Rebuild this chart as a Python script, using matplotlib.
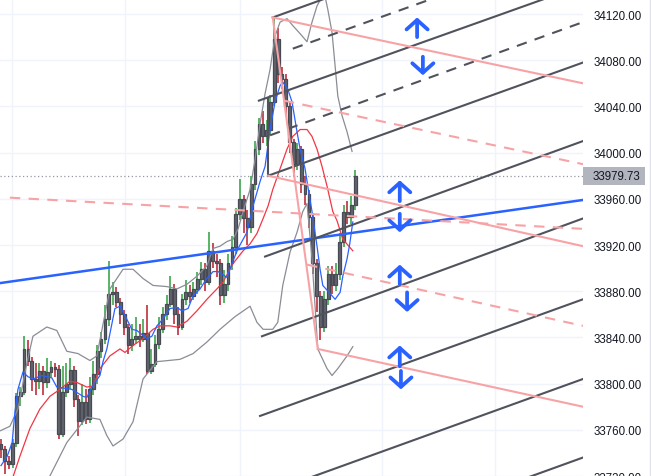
import matplotlib
matplotlib.use("Agg")
import matplotlib.pyplot as plt
from matplotlib.patches import Rectangle
import matplotlib.transforms as mtransforms

plt.rcParams['font.family'] = ['Liberation Sans', 'DejaVu Sans']

# ---- price data (one candle per bar) ----
first_open = 33748
closes = [33743, 33733, 33730, 33749, 33789, 33793, 33830, 33820, 33804, 33802,
          33811, 33801, 33810, 33814, 33813, 33756, 33793, 33800, 33812, 33787,
          33768, 33784, 33769, 33795, 33808, 33828, 33839, 33856, 33878, 33879,
          33871, 33860, 33849, 33833, 33839, 33841, 33839, 33844, 33811, 33817,
          33834, 33847, 33860, 33869, 33882, 33860, 33849, 33873, 33879, 33876,
          33882, 33891, 33899, 33888, 33915, 33906, 33904, 33877, 33886, 33904,
          33918, 33947, 33960, 33943, 33936, 33973, 34003, 34025, 34014, 34020,
          34044, 34098, 34068, 34064, 34040, 34009, 33990, 34003, 33973, 33964,
          33944, 33904, 33876, 33849, 33873, 33895, 33885, 33895, 33923, 33949,
          33944, 33955, 33979.73]
highs = [33752, 33746, 33737, 33752, 33792, 33797, 33841, 33838, 33823, 33818,
         33818, 33815, 33822, 33820, 33818, 33816, 33815, 33818, 33822, 33815,
         33790, 33800, 33795, 33806, 33820, 33833, 33845, 33868, 33906, 33888,
         33884, 33874, 33864, 33852, 33852, 33858, 33852, 33856, 33868, 33830,
         33842, 33858, 33866, 33877, 33893, 33886, 33866, 33878, 33890, 33885,
         33888, 33897, 33905, 33904, 33931, 33922, 33912, 33908, 33898, 33912,
         33928, 33952, 33977, 33963, 33950, 33980, 34010, 34030, 34036, 34028,
         34050, 34117, 34108, 34074, 34068, 34045, 34012, 34008, 34006, 33980,
         33968, 33948, 33908, 33880, 33880, 33902, 33902, 33904, 33930, 33955,
         33958, 33962, 33985]
lows = [33736, 33722, 33726, 33727, 33745, 33781, 33790, 33815, 33794, 33790,
        33795, 33790, 33796, 33806, 33806, 33752, 33754, 33788, 33795, 33780,
        33755, 33764, 33765, 33766, 33790, 33800, 33822, 33834, 33850, 33868,
        33866, 33852, 33842, 33826, 33828, 33834, 33832, 33836, 33808, 33808,
        33814, 33830, 33844, 33855, 33866, 33852, 33842, 33846, 33868, 33870,
        33872, 33878, 33885, 33880, 33885, 33900, 33892, 33868, 33870, 33880,
        33898, 33912, 33942, 33930, 33920, 33930, 33968, 33998, 34008, 34006,
        34015, 34040, 34060, 34055, 34032, 34000, 33980, 33985, 33965, 33955,
        33935, 33895, 33862, 33838, 33845, 33868, 33878, 33880, 33890, 33918,
        33938, 33938, 33950]
last_price = 33979.73

# ---- indicators (bar, price) ----
ma_fast_x = [0, 1.6, 2.9, 3.6, 4.4, 5.7, 7.0, 8.3, 10.6, 13.2, 14.5, 18.4, 21.3, 22.3,
             23.6, 25.7, 26.5, 27.5, 29.6, 30.9, 32.2, 34.0, 35.3, 37.9, 39.2, 40.5,
             42.1, 43.9, 45.7, 47.0, 48.6, 49.9, 51.7, 53.5, 55.1, 56.4, 58.7, 60.0,
             61.6, 63.9, 65.5, 67.3, 68.6, 69.9, 71.2, 72.5, 73.2, 74.5, 75.6, 76.9,
             77.7, 79.0, 79.7, 80.8, 82.1, 82.9, 83.6, 85.5, 86.8, 88.1, 88.8, 89.9,
             90.6, 91.4]
ma_fast_y = [33729, 33737, 33749, 33775, 33795, 33810, 33806, 33804, 33807, 33805, 33797,
             33795, 33789, 33788, 33797, 33807, 33819, 33830, 33865, 33867, 33859,
             33847, 33846, 33839, 33841, 33850, 33856, 33865, 33866, 33863, 33865,
             33876, 33882, 33891, 33897, 33897, 33892, 33904, 33917, 33931, 33954,
             33975, 33988, 34020, 34044, 34058, 34061, 34055, 34044, 34018, 34003,
             33986, 33971, 33949, 33919, 33899, 33885, 33878, 33873, 33879, 33893,
             33908, 33921, 33940]

ma_slow_x = [3.1, 4.9, 7.5, 10.1, 12.7, 15.3, 17.9, 19.7, 22.3, 23.9, 25.7, 28.3, 30.9,
             32.2, 34.3, 36.9, 39.5, 41.3, 43.9, 45.7, 48.3, 50.9, 53.5, 56.1, 57.7,
             60.3, 62.9, 64.7, 66.5, 68.1, 69.4, 70.6, 72.5, 74.3, 75.8, 77.7, 79.5,
             80.8, 82.1, 83.4, 84.7, 86.2, 87.3, 88.8, 91.4]
ma_slow_y = [33719, 33737, 33761, 33778, 33789, 33795, 33802, 33801, 33797, 33798, 33813,
             33824, 33830, 33827, 33833, 33839, 33847, 33850, 33850, 33849, 33854,
             33863, 33873, 33882, 33888, 33904, 33915, 33921, 33930, 33943, 33954,
             33968, 33986, 34003, 34014, 34020, 34020, 34014, 34003, 33988, 33971,
             33949, 33941, 33925, 33915]

band_up_x = [-0.3, 2.3, 4.4, 6.8, 8.3, 11.9, 14.5, 17.1, 20.0, 23.1, 24.9, 28.3, 31.7,
             34.3, 36.9, 39.5, 43.1, 45.7, 48.3, 50.9, 53.5, 55.1, 56.9, 58.7, 60.3,
             61.6, 62.9, 64.7, 66.0, 67.3, 68.6, 69.9, 71.2, 72.5, 74.3, 75.8, 77.7,
             79.5, 80.8, 82.1, 83.4, 84.2, 84.9, 86.0, 86.8, 87.5, 88.6, 89.9, 91.2]
band_up_y = [33759, 33763, 33778, 33819, 33841, 33849, 33846, 33828, 33826, 33820, 33824,
             33882, 33899, 33899, 33891, 33885, 33884, 33882, 33886, 33893, 33902,
             33917, 33919, 33923, 33925, 33934, 33949, 33968, 33994, 34025, 34051,
             34072, 34101, 34113, 34116, 34110, 34103, 34096, 34113, 34127, 34135,
             34135, 34124, 34104, 34075, 34049, 34032, 34018, 34001]

band_lo_x = [12.7, 17.1, 22.3, 25.7, 27.5, 29.1, 31.7, 34.3, 36.9, 40.5, 46.5, 49.9,
             53.5, 56.9, 60.8, 64.7, 66.5, 68.1, 70.6, 71.9, 73.2, 75.1, 76.9, 78.4,
             79.5, 80.8, 82.3, 84.7, 86.0, 87.5, 89.9, 91.4]
band_lo_y = [33720, 33749, 33771, 33769, 33755, 33746, 33752, 33767, 33804, 33819, 33821,
             33826, 33836, 33847, 33858, 33867, 33853, 33847, 33847, 33853, 33885,
             33914, 33931, 33949, 33956, 33908, 33830, 33813, 33807, 33813, 33824,
             33832]

# ---- drawings (bar0, price0, bar1, price1) ----
trend_line = (-0.3, 33887, 151.2, 33959)
channel_solid = [(70.6, 34117, 151.2, 34214), (67.0, 34045, 151.2, 34145),
                 (69.4, 33980, 151.2, 34078), (68.6, 33910, 151.2, 34010),
                 (67.8, 33841, 151.2, 33943), (67.3, 33772, 151.2, 33873),
                 (67.3, 33703, 151.2, 33804), (67.3, 33635, 151.2, 33736),
                 (69.4, 34047, 69.4, 33980)]
channel_dashed = [(75.8, 34090, 151.2, 34180), (69.9, 34015, 151.2, 34113)]
pink_solid = [(70.6, 34117, 151.2, 34060), (70.6, 34117, 82.3, 33830),
              (69.4, 33980, 151.2, 33919), (82.3, 33830, 151.2, 33780)]
pink_dashed = [(73.5, 34045, 151.2, 33990), (79.5, 33903, 151.2, 33850),
               (2.3, 33961, 151.2, 33934)]
# arrows: (bar, tail price, head price)
arrows = [(108.1, 34100, 34117), (109.6, 34083, 34067),
          (103.6, 33958, 33976), (103.6, 33947, 33931),
          (103.6, 33886, 33903), (105.5, 33879, 33862),
          (103.6, 33815, 33833), (103.9, 33811, 33795)]

price_ticks = list(range(33720, 34121, 40))
time_grid = [2.86, 32.2, 62.1, 99.0, 128.3]

W, H = 651, 477
fig = plt.figure(figsize=(W / 100, H / 100), dpi=100)
fig.patch.set_facecolor('white')
ax = fig.add_axes([0, 0, 583 / W, 1])
ax.set_xlim(-0.26, 151.2)
ax.set_ylim(33720, 34133)

# grid
for p in price_ticks:
  ax.axhline(p, color='#f0f3fa', lw=1, zorder=0)
for t in time_grid:
  ax.axvline(t, color='#f0f3fa', lw=1, zorder=0)

# candles
opens = [first_open] + closes[:-1]
for i, (o, c, h, l) in enumerate(zip(opens, closes, highs, lows)):
  wick = '#2e9e3e' if c >= o else '#b71c2c'
  ax.vlines(i, l, h, color=wick, lw=1.1, zorder=2)
  lo, hi = min(o, c), max(o, c)
  ax.add_patch(Rectangle((i - 0.36, lo), 0.72, max(hi - lo, 1.5),
                         facecolor='#62656d', edgecolor='#474a52', lw=0.9, zorder=3))

# indicators
ax.plot(band_up_x, band_up_y, color='#8a8d95', lw=0.9, zorder=4)
ax.plot(band_lo_x, band_lo_y, color='#8a8d95', lw=0.9, zorder=4)
ax.plot(ma_slow_x, ma_slow_y, color='#f23645', lw=0.9, zorder=4)
ax.plot(ma_fast_x, ma_fast_y, color='#2962ff', lw=0.9, zorder=4)

# last price line
ax.axhline(last_price, color='#9598a1', lw=0.9, ls=(0, (1, 2)), zorder=1)

# drawings
x0, y0, x1, y1 = trend_line
ax.plot([x0, x1], [y0, y1], color='#2962ff', lw=1.8, zorder=6)
for x0, y0, x1, y1 in channel_solid:
  ax.plot([x0, x1], [y0, y1], color='#50535c', lw=1.5, zorder=6)
for x0, y0, x1, y1 in channel_dashed:
  ax.plot([x0, x1], [y0, y1], color='#50535c', lw=1.5, dashes=(5, 4), zorder=6)
for x0, y0, x1, y1 in pink_solid:
  ax.plot([x0, x1], [y0, y1], color='#f7a3a6', lw=1.5, zorder=6)
for x0, y0, x1, y1 in pink_dashed:
  ax.plot([x0, x1], [y0, y1], color='#f7a3a6', lw=1.5, dashes=(5, 4), zorder=6)
for bx, tail, head in arrows:
  ax.annotate('', xy=(bx, head), xytext=(bx, tail),
              arrowprops=dict(arrowstyle='->,head_length=0.34,head_width=0.38',
                              color='#2962ff', lw=2.7, shrinkA=0, shrinkB=0,
                              mutation_scale=20, capstyle='round', joinstyle='round'),
              zorder=7)

# axis
for s in ax.spines.values():
  s.set_visible(False)
ax.set_xticks([])
ax.yaxis.tick_right()
ax.set_yticks(price_ticks)
ax.set_yticklabels(['{:.2f}'.format(p) for p in price_ticks])
ax.tick_params(axis='y', length=0, pad=7.5, labelsize=8.3, labelcolor='#131722')

# last price tag
trans = mtransforms.blended_transform_factory(ax.transAxes, ax.transData)
ax.add_patch(Rectangle((1.0, last_price - 7.8), 62 / 583, 15.6, transform=trans,
                       facecolor='#b2b5be', edgecolor='none', clip_on=False, zorder=8))
ax.text(1.0 + 10 / 583, last_price, '{:.2f}'.format(last_price), transform=trans,
        ha='left', va='center', fontsize=8.3, color='#131722', zorder=9)

fig.add_artist(plt.Line2D([650 / W, 650 / W], [0, 1], color='#e0e3eb', lw=1))

fig.savefig('out.png', dpi=100)
